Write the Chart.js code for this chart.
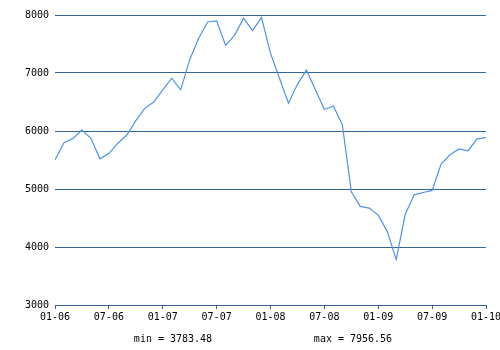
<!DOCTYPE html>
<html>
<head>
<meta charset="UTF-8">
<title>Index 2006-2010</title>
<style>
  body { margin: 0; background: #fff; }
  canvas { display: block; }
</style>
<script src="https://cdn.jsdelivr.net/npm/chart.js"></script>
</head>
<body>
<canvas id="chart" width="500" height="350"></canvas>
<script>
// monthly closing values, Jan 2006 .. Jan 2010 (index 0..48)
const values = [
  5500, 5800, 5870, 6017, 5874, 5520, 5610, 5790, 5930, 6180,
  6390, 6500, 6710, 6910, 6710, 7230, 7600, 7880, 7900, 7475,
  7650, 7945, 7730, 7956.56, 7340, 6910, 6480, 6805, 7050, 6710,
  6370, 6430, 6110, 4950, 4700, 4670, 4550, 4270, 3783.48, 4560,
  4900, 4940, 4975, 5430, 5590, 5690, 5660, 5865, 5885
];
const xTickLabels = ['01-06', '07-06', '01-07', '07-07', '01-08', '07-08', '01-09', '07-09', '01-10'];
const yTicks = [3000, 4000, 5000, 6000, 7000, 8000];

const points = values.map((v, i) => ({ x: i, y: v }));
const minVal = Math.min(...values);
const maxVal = Math.max(...values);

const font = { family: 'DejaVu Sans Mono', size: 10 };
const axisColor = '#336699';

// min / max text under the axis
const summaryText = {
  id: 'summaryText',
  afterDraw(chart) {
    const ctx = chart.ctx;
    ctx.save();
    ctx.font = '10px "DejaVu Sans Mono"';
    ctx.fillStyle = '#000';
    ctx.textAlign = 'center';
    ctx.textBaseline = 'middle';
    ctx.fillText('min = ' + minVal.toFixed(2), 173, 339);
    ctx.fillText('max = ' + maxVal.toFixed(2), 353, 339);
    ctx.restore();
  }
};

new Chart(document.getElementById('chart'), {
  type: 'line',
  data: {
    datasets: [{
      data: points,
      borderColor: '#4d94ea',
      borderWidth: 1.2,
      pointRadius: 0,
      tension: 0,
      fill: false
    }]
  },
  options: {
    responsive: false,
    animation: false,
    layout: { padding: { top: 15, right: 14, left: 0, bottom: 0 } },
    plugins: { legend: { display: false }, tooltip: { enabled: false } },
    scales: {
      x: {
        type: 'linear',
        min: 0,
        max: 48,
        afterFit: s => { s.height = 45; s.paddingLeft = 0; s.paddingRight = 0; },
        afterBuildTicks: s => { s.ticks = xTickLabels.map((_, i) => ({ value: i * 6 })); },
        ticks: {
          font: font,
          color: '#000',
          padding: 2,
          maxRotation: 0,
          autoSkip: false,
          callback: v => xTickLabels[v / 6]
        },
        grid: { drawOnChartArea: false, drawTicks: true, tickLength: 4, color: axisColor },
        border: { display: true, color: axisColor }
      },
      y: {
        min: 3000,
        max: 8000,
        afterFit: s => { s.width = 55; s.paddingTop = 0; s.paddingBottom = 0; },
        afterBuildTicks: s => { s.ticks = yTicks.map(v => ({ value: v })); },
        ticks: { font: font, color: '#000', padding: 6, callback: v => String(v) },
        grid: { drawTicks: false, color: axisColor },
        border: { display: false }
      }
    }
  },
  plugins: [summaryText]
});
</script>
</body>
</html>
